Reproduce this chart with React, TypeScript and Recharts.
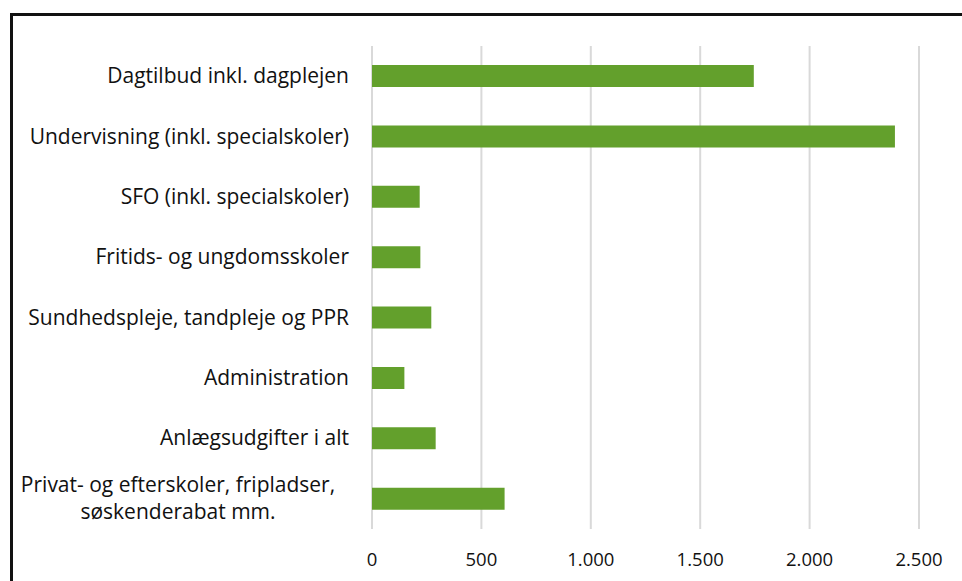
import { Bar, BarChart, CartesianGrid, XAxis, YAxis } from "recharts"

const categories = [
  "Dagtilbud inkl. dagplejen",
  "Undervisning (inkl. specialskoler)",
  "SFO (inkl. specialskoler)",
  "Fritids- og ungdomsskoler",
  "Sundhedspleje, tandpleje og PPR",
  "Administration",
  "Anlægsudgifter i alt",
  "Privat- og efterskoler, fripladser,\nsøskenderabat mm.",
]

const values = [1745, 2390, 218, 221, 271, 148, 291, 606]

const xTicks = [0, 500, 1000, 1500, 2000, 2500]

const data = categories.map((name, i) => ({ name, value: values[i] }))

const font = "'Open Sans', 'Noto Sans', sans-serif"

// dansk tusindtalsseparator
const fmt = (v: number) => String(v).replace(/\B(?=(\d{3})+(?!\d))/g, ".")

function CategoryTick(props: any) {
  const { x, y, payload } = props
  const lines = String(payload.value).split("\n")
  if (lines.length === 1) {
    return (
      <text x={x} y={y} dy={7} textAnchor="end" fontSize={21} fill="#111" fontFamily={font}>
        {lines[0]}
      </text>
    )
  }
  const cx = x - 171
  return (
    <text x={cx} y={y} textAnchor="middle" fontSize={21} fill="#111" fontFamily={font}>
      {lines.map((l, i) => (
        <tspan key={i} x={cx} dy={i === 0 ? -7 : 27}>
          {l}
        </tspan>
      ))}
    </text>
  )
}

export default function App() {
  return (
    <div style={{ position: "relative", width: 962, height: 581 }}>
      <style>{`body{margin:0;overflow:hidden;background:#fff}`}</style>
      <div
        style={{
          position: "absolute",
          left: 10,
          top: 13,
          width: 952,
          height: 568,
          borderLeft: "3px solid #111",
          borderTop: "3px solid #111",
        }}
      />
      <div style={{ position: "absolute", left: 0, top: 0 }}>
        <BarChart
          width={962}
          height={581}
          data={data}
          layout="vertical"
          margin={{ top: 46, right: 43, bottom: 0, left: 0 }}
        >
          <CartesianGrid horizontal={false} stroke="#d9d9d9" strokeWidth={2} />
          <XAxis
            type="number"
            domain={[0, 2500]}
            ticks={xTicks}
            tickFormatter={fmt}
            axisLine={false}
            tickLine={false}
            height={52}
            tickMargin={18}
            tick={{ fontSize: 18.5, fill: "#111", fontFamily: font }}
          />
          <YAxis
            type="category"
            dataKey="name"
            width={372}
            axisLine={false}
            tickLine={false}
            tickMargin={17}
            interval={0}
            tick={<CategoryTick />}
          />
          <Bar dataKey="value" fill="#63a02c" barSize={22} isAnimationActive={false} />
        </BarChart>
      </div>
    </div>
  )
}
